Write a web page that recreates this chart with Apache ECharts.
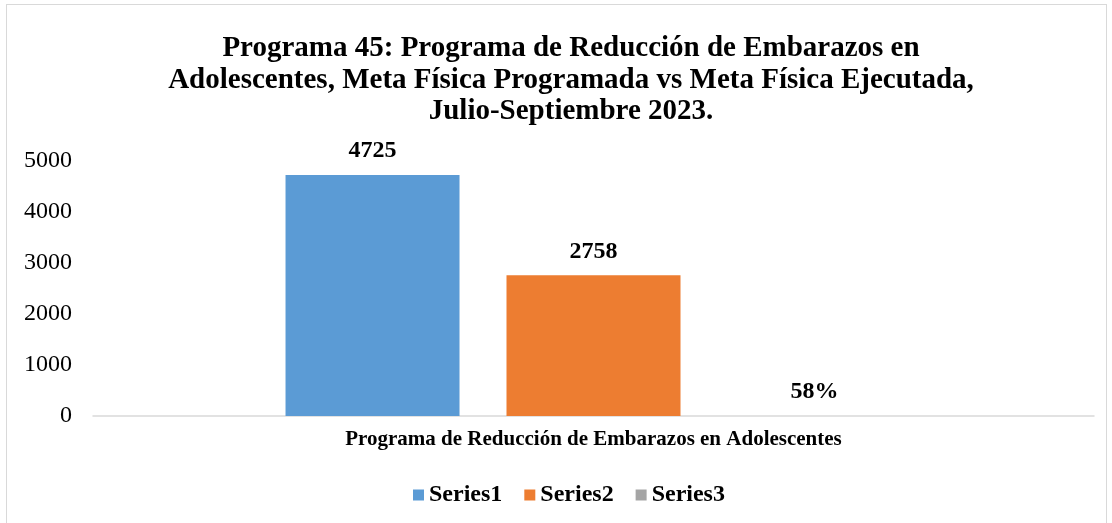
<!DOCTYPE html>
<html>
<head>
<meta charset="utf-8">
<script src="https://cdn.jsdelivr.net/npm/echarts@6/dist/echarts.min.js"></script>
<style>
  html, body { margin: 0; padding: 0; background: #fff; }
  .frame {
    position: absolute;
    left: 6px;
    top: 4px;
    width: 1101px;
    height: 530px;
    border: 1px solid #d9d9d9;
    box-sizing: border-box;
  }
  #main { position: absolute; left: 0; top: 0; width: 1112px; height: 523px; }
</style>
</head>
<body>
<div class="frame"></div>
<div id="main"></div>
<script>
const categories = ['Programa de Reducción de Embarazos en Adolescentes']
const seriesNames = ['Series1', 'Series2', 'Series3']
const series1 = [4725]
const series2 = [2758]
const series3 = [0.58]
const yTicks = [0, 1000, 2000, 3000, 4000, 5000]

const colors = ['#5B9BD5', '#ED7D31', '#A5A5A5']
const font = '"Liberation Serif", "Times New Roman", serif'

const chart = echarts.init(document.getElementById('main'))

const labelStyle = {
  show: true,
  position: 'top',
  distance: 12,
  fontFamily: font,
  fontWeight: 'bold',
  fontSize: 24,
  color: '#000'
}

chart.setOption({
  animation: false,
  title: {
    text: 'Programa 45: Programa de Reducción de Embarazos en\nAdolescentes, Meta Física Programada vs Meta Física Ejecutada,\nJulio-Septiembre 2023.',
    left: 566,
    top: 28,
    textAlign: 'center',
    textStyle: {
      fontFamily: font,
      fontWeight: 'bold',
      fontSize: 29,
      lineHeight: 31.5,
      color: '#000'
    }
  },
  legend: {
    data: seriesNames,
    top: 478,
    left: 408,
    icon: 'rect',
    itemWidth: 11,
    itemHeight: 11,
    itemGap: 22,
    textStyle: {
      fontFamily: font,
      fontWeight: 'bold',
      fontSize: 24,
      color: '#000'
    }
  },
  grid: {
    left: 93,
    right: 18,
    top: 161,
    bottom: 107,
    containLabel: false
  },
  xAxis: {
    type: 'category',
    data: categories,
    axisTick: { show: false },
    axisLine: { lineStyle: { color: '#d9d9d9', width: 1.5 } },
    axisLabel: {
      margin: 13,
      fontFamily: font,
      fontWeight: 'bold',
      fontSize: 21,
      color: '#000'
    }
  },
  yAxis: {
    type: 'value',
    min: yTicks[0],
    max: yTicks[yTicks.length - 1],
    interval: 1000,
    splitLine: { show: false },
    axisLine: { show: false },
    axisTick: { show: false },
    axisLabel: {
      margin: 21,
      fontFamily: font,
      fontSize: 24,
      color: '#000',
      formatter: v => String(v)
    }
  },
  series: [
    {
      name: seriesNames[0],
      type: 'bar',
      data: series1,
      barWidth: 174,
      barGap: '27%',
      itemStyle: { color: colors[0] },
      label: labelStyle
    },
    {
      name: seriesNames[1],
      type: 'bar',
      data: series2,
      barWidth: 174,
      barGap: '27%',
      itemStyle: { color: colors[1] },
      label: labelStyle
    },
    {
      name: seriesNames[2],
      type: 'bar',
      data: series3,
      barWidth: 174,
      barGap: '27%',
      itemStyle: { color: colors[2] },
      label: Object.assign({}, labelStyle, {
        formatter: p => Math.round(p.value * 100) + '%'
      })
    }
  ]
})
</script>
</body>
</html>
